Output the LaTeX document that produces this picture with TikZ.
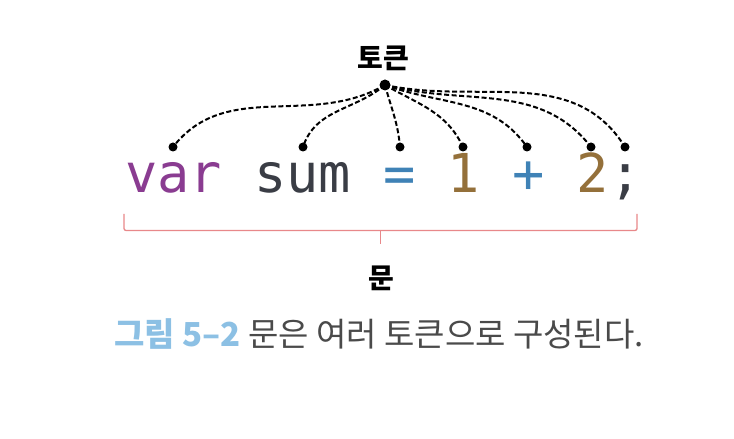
\documentclass[tikz,border=0pt]{standalone}
\usepackage{fontspec}
\setmonofont{DejaVu Sans Mono}
\newfontfamily\kr{Noto Sans CJK KR}
\definecolor{kwpurple}{HTML}{8A3C91}
\definecolor{idgray}{HTML}{3A3D45}
\definecolor{opblue}{HTML}{3F82B6}
\definecolor{numbrown}{HTML}{94703A}
\definecolor{capblue}{HTML}{8CC0E4}
\definecolor{capgray}{HTML}{4A4A4A}
\definecolor{bracered}{HTML}{E8888A}
\tikzset{
  tokdot/.style={circle,fill=black,inner sep=0pt,minimum size=9pt},
  hubdot/.style={circle,fill=black,inner sep=0pt,minimum size=11pt},
  tokline/.style={line width=2pt,dash pattern=on 5pt off 2.5pt},
  bigkr/.style={font=\kr\bfseries\fontsize{28}{30}\selectfont,inner sep=0pt},
  codetext/.style={font=\ttfamily\fontsize{53.6}{56}\selectfont,inner sep=0pt,anchor=base west},
  brace/.style={draw=bracered,line width=1.3pt,rounded corners=2pt},
}
\begin{document}
\begin{tikzpicture}[x=1pt,y=1pt]
\useasboundingbox (0,0) rectangle (734,439);
\fill[white] (0,0) rectangle (734,439);
% code line
\node[codetext] (code) at (124.9,246) {\textcolor{kwpurple}{var} \textcolor{idgray}{sum} \textcolor{opblue}{=} \textcolor{numbrown}{1} \textcolor{opblue}{+} \textcolor{numbrown}{2}\textcolor{idgray}{;}};
% token label and hub
\node[bigkr] (tok) at (383,381) {토큰};
\node[hubdot] (hub) at (385,354) {};
% token dots
\node[tokdot] (d1) at (173,292) {};
\node[tokdot] (d2) at (303,292) {};
\node[tokdot] (d3) at (400,292) {};
\node[tokdot] (d4) at (463,292) {};
\node[tokdot] (d5) at (527,292) {};
\node[tokdot] (d6) at (591,292) {};
\node[tokdot] (d7) at (625,292) {};
% dashed connectors
\draw[tokline] (hub.center) to[out=210,in=52] (d1.center);
\draw[tokline] (hub.center) to[out=220,in=72] (d2.center);
\draw[tokline] (hub.center) to[out=285,in=95] (d3.center);
\draw[tokline] (hub.center) to[out=-30,in=115] (d4.center);
\draw[tokline] (hub.center) to[out=-20,in=125] (d5.center);
\draw[tokline] (hub.center) to[out=-15,in=128] (d6.center);
\draw[tokline] (hub.center) to[out=-12,in=122] (d7.center);
% brace
\coordinate (bl) at (124,225);
\coordinate (br) at (637,225);
\coordinate (bm) at (380.5,208.5);
\coordinate (bt) at (380.5,195);
\draw[brace] (bl) -- (124,208.5) -- (br |- bm) -- (br);
\draw[brace] (bm) -- (bt);
% statement label
\node[bigkr] (mun) at (381,161) {문};
% caption
\node[font=\kr\fontsize{33}{35}\selectfont,inner sep=0pt,text=capgray] (cap) at (379,105)
  {\textcolor{capblue}{\bfseries 그림 5–2} 문은 여러 토큰으로 구성된다.};
\end{tikzpicture}
\end{document}
